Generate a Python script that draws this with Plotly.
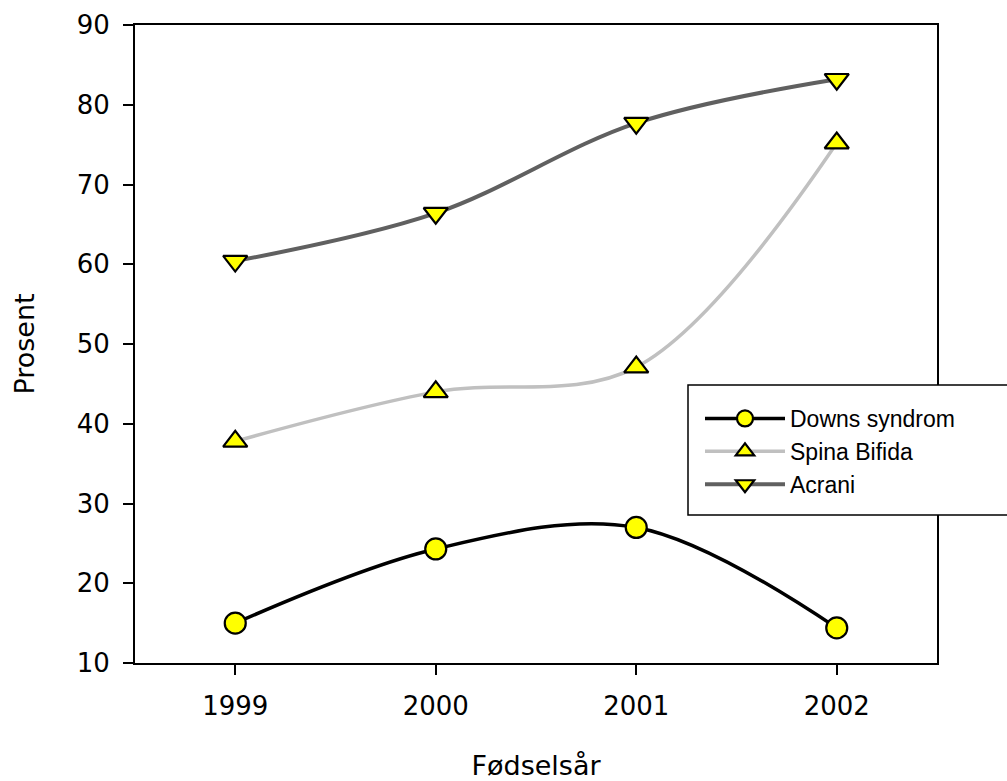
import plotly.graph_objects as go

years = ["1999", "2000", "2001", "2002"]
downs = [15.0, 24.3, 27.0, 14.4]
spina = [37.8, 44.0, 47.1, 75.2]
acrani = [60.4, 66.4, 77.7, 83.2]

series = [
    ("Downs syndrom", downs, "#000000", "circle", 3.5),
    ("Spina Bifida", spina, "#c0c0c0", "triangle-up", 3.5),
    ("Acrani", acrani, "#606060", "triangle-down", 4),
]

fig = go.Figure()
for name, vals, col, sym, lw in series:
    fig.add_trace(go.Scatter(
        x=years, y=vals, name=name, mode="lines+markers",
        line=dict(color=col, width=lw, shape="spline", smoothing=1.0),
        marker=dict(symbol=sym, size=21, color="#ffff00",
                    line=dict(color="#000000", width=2.2)),
    ))

tick_font = dict(family="DejaVu Sans", size=26, color="#000000")
title_font = dict(family="DejaVu Sans", size=27, color="#000000")
axis_common = dict(
    showline=True, linecolor="#000000", linewidth=2, mirror=True,
    ticks="outside", ticklen=10, tickwidth=2, tickcolor="#000000",
    showgrid=False, zeroline=False, tickfont=tick_font, automargin=False,
)

# legend frame (px -> paper coords of the plot area 135..937 x 25..663)
fig.add_shape(type="rect", xref="paper", yref="paper",
              x0=(688 - 135) / 802, x1=(1012 - 135) / 802,
              y0=(663 - 515) / 638, y1=(663 - 385) / 638,
              line=dict(color="#000000", width=1.5), fillcolor="#ffffff", layer="above")

fig.update_layout(
    width=1007, height=781,
    margin=dict(l=135, r=70, t=25, b=118),
    paper_bgcolor="#ffffff", plot_bgcolor="#ffffff",
    showlegend=True,
    legend=dict(
        x=(700 - 135) / 802, y=(663 - 397) / 638, xanchor="left", yanchor="top",
        bgcolor="rgba(0,0,0,0)", borderwidth=0,
        font=dict(family="Liberation Sans", size=23, color="#000000"),
        itemwidth=80, tracegroupgap=0,
    ),
    xaxis=dict(
        **axis_common, type="category", range=[-0.5, 3.5],
        ticklabelstandoff=9,
        title=dict(text="Fødselsår", font=title_font, standoff=36),
    ),
    yaxis=dict(
        **axis_common, range=[10, 90], dtick=10, tick0=10,
        ticklabelstandoff=8,
        title=dict(text="Prosent", font=title_font, standoff=34),
    ),
)

fig.write_html("out.html")
